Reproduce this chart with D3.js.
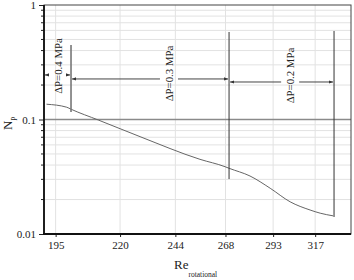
<!DOCTYPE html>
<html>
<head>
    <title>Np vs Re rotational</title>
    <script src="https://d3js.org/d3.v7.min.js"></script>
    <style>
        body { margin: 0; background: #fff; }
        svg text { font-family: "Liberation Serif", "Times New Roman", "DejaVu Serif", serif !important; fill: #222; }
        .grid line { stroke: #e2e2e2; stroke-width: 1; }
    </style>
</head>
<body>
    <div id="chart"></div>
    <script>
	// curve
	const reValues = [191.7, 199.1, 200.7, 211.2, 228.4, 255.5, 267.8, 269.8, 280.6, 291.4, 302.5, 314.0, 320.0, 327.9];
	const npValues = [0.136, 0.128, 0.123, 0.099, 0.0708, 0.0449, 0.0387, 0.0375, 0.0321, 0.0251, 0.0191, 0.0162, 0.0152, 0.0144];

	const xTicks = [195, 220, 244, 268, 293, 317];
	const yTicks = [0.01, 0.1, 1];
	const yTickLabels = ["0.01", "0.1", "1"];

	// pressure zones
	const zoneLabels = ["ΔP=0.4 MPa", "ΔP=0.3 MPa", "ΔP=0.2 MPa"];
	const zoneStart = [190.8, 200.7, 269.8];
	const zoneEnd = [200.7, 269.8, 328.4];
	const zoneLabelRe = [195.8, 241.1, 302.5];
	const zoneLabelNp = [0.293, 0.252, 0.242];
	const zoneArrowNp = [0.245, 0.226, 0.2126];
	const markerRe = [200.7, 269.8, 328.4];
	const markerTop = [0.448, 0.581, 0.593];
	const markerBottom = [0.1163, 0.0302, 0.01408];

	const W = 354, H = 280;
	const plot = {left: 44, right: 351, top: 5, bottom: 234};
	const serif = '"Liberation Serif", "Times New Roman", serif';

	const x = d3.scaleLog().domain([190.8, 339]).range([plot.left, plot.right]);
	const y = d3.scaleLog().domain([0.01, 1]).range([plot.bottom, plot.top]);

	const svg = d3.select("#chart").append("svg")
	    .attr("width", W)
	    .attr("height", H)
	    .attr("font-family", serif);

	svg.append("defs").append("marker")
	    .attr("id", "head")
	    .attr("viewBox", "0 0 10 10")
	    .attr("refX", 10).attr("refY", 5)
	    .attr("markerWidth", 4).attr("markerHeight", 4)
	    .attr("markerUnits", "userSpaceOnUse")
	    .attr("orient", "auto")
	    .append("path")
	    .attr("d", "M0,1L10,5L0,9Z")
	    .attr("fill", "#333");

	// minor log values for horizontal grid
	const minor = [];
	[0.01, 0.1].forEach(d => { for (let k = 2; k <= 9; k++) minor.push(d * k); });

	const grid = svg.append("g").attr("class", "grid");
	grid.selectAll(".h").data(minor).enter().append("line")
	    .attr("x1", plot.left).attr("x2", plot.right)
	    .attr("y1", d => y(d)).attr("y2", d => y(d));
	grid.selectAll(".v").data(xTicks).enter().append("line")
	    .attr("x1", d => x(d)).attr("x2", d => x(d))
	    .attr("y1", plot.top).attr("y2", plot.bottom);

	svg.append("line")
	    .attr("x1", plot.left).attr("x2", plot.right)
	    .attr("y1", y(0.1)).attr("y2", y(0.1))
	    .attr("stroke", "#8a8a8a").attr("stroke-width", 1.3);

	// frame
	svg.append("rect")
	    .attr("x", plot.left).attr("y", plot.top)
	    .attr("width", plot.right - plot.left).attr("height", plot.bottom - plot.top)
	    .attr("fill", "none").attr("stroke", "#444").attr("stroke-width", 1);

	// curve
	const line = d3.line()
	    .x(d => x(d[0]))
	    .y(d => y(d[1]))
	    .curve(d3.curveMonotoneX);
	svg.append("path")
	    .datum(reValues.map((r, i) => [r, npValues[i]]))
	    .attr("d", line)
	    .attr("fill", "none")
	    .attr("stroke", "#666")
	    .attr("stroke-width", 1);

	// zone boundary lines
	svg.selectAll(".marker").data(markerRe).enter().append("line")
	    .attr("x1", d => x(d)).attr("x2", d => x(d))
	    .attr("y1", (d, i) => y(markerTop[i]))
	    .attr("y2", (d, i) => y(markerBottom[i]))
	    .attr("stroke", (d, i) => i === 0 ? "#777" : "#333")
	    .attr("stroke-width", (d, i) => i === 0 ? 1.6 : 1);

	// zone labels and arrows
	const gap = 9;
	zoneLabels.forEach((lbl, i) => {
	    const tx = x(zoneLabelRe[i]), ty = y(zoneLabelNp[i]), ay = y(zoneArrowNp[i]);
	    svg.append("text")
	        .attr("transform", `translate(${tx + 4},${ty}) rotate(-90)`)
	        .attr("text-anchor", "middle")
	        .attr("font-size", "10.8px")
	        .text(lbl);
	    svg.append("line")
	        .attr("x1", tx - gap).attr("x2", x(zoneStart[i]) + 1)
	        .attr("y1", ay).attr("y2", ay)
	        .attr("stroke", "#444").attr("stroke-width", 1)
	        .attr("marker-end", "url(#head)");
	    svg.append("line")
	        .attr("x1", tx + gap).attr("x2", x(zoneEnd[i]) - 1)
	        .attr("y1", ay).attr("y2", ay)
	        .attr("stroke", "#444").attr("stroke-width", 1)
	        .attr("marker-end", "url(#head)");
	});

	// axes
	const xAxis = d3.axisBottom(x).tickValues(xTicks).tickFormat(d3.format("d")).tickSize(3).tickPadding(4);
	const gx = svg.append("g").attr("transform", `translate(0,${plot.bottom})`).call(xAxis)
	    .attr("font-family", serif).attr("font-size", 11);
	gx.select(".domain").remove();
	gx.selectAll("text").attr("fill", "#222");
	gx.selectAll("line").attr("stroke", "#222");

	const yAxis = d3.axisLeft(y).tickValues(yTicks).tickFormat((d, i) => yTickLabels[i]).tickSize(5).tickPadding(3);
	const gy = svg.append("g").attr("transform", `translate(${plot.left},0)`).call(yAxis)
	    .attr("font-family", serif).attr("font-size", 11);
	gy.select(".domain").remove();
	gy.selectAll("text").attr("fill", "#222");
	gy.selectAll("line").attr("stroke", "#222");

	gy.selectAll(".minor").data(minor).enter().append("line")
	    .attr("x1", -3).attr("x2", 0)
	    .attr("y1", d => y(d)).attr("y2", d => y(d))
	    .attr("stroke", "#222");

	svg.append("line").attr("x1", plot.left).attr("x2", plot.left).attr("y1", plot.top).attr("y2", plot.bottom + 1)
	    .attr("stroke", "#111").attr("stroke-width", 1.8);
	svg.append("line").attr("x1", plot.left - 1).attr("x2", plot.right).attr("y1", plot.bottom).attr("y2", plot.bottom)
	    .attr("stroke", "#111").attr("stroke-width", 1.8);

	// axis titles
	const xt = svg.append("text").attr("x", 174).attr("y", 269).attr("font-size", "13px");
	xt.append("tspan").text("Re");
	xt.append("tspan").attr("font-size", "7.5px").attr("dy", 8).text("rotational");

	const yt = svg.append("text")
	    .attr("transform", "translate(12,130) rotate(-90)")
	    .attr("font-size", "13px");
	yt.append("tspan").text("N");
	yt.append("tspan").attr("font-size", "7.5px").attr("dy", 3).text("p");
	</script>
</body>
</html>
